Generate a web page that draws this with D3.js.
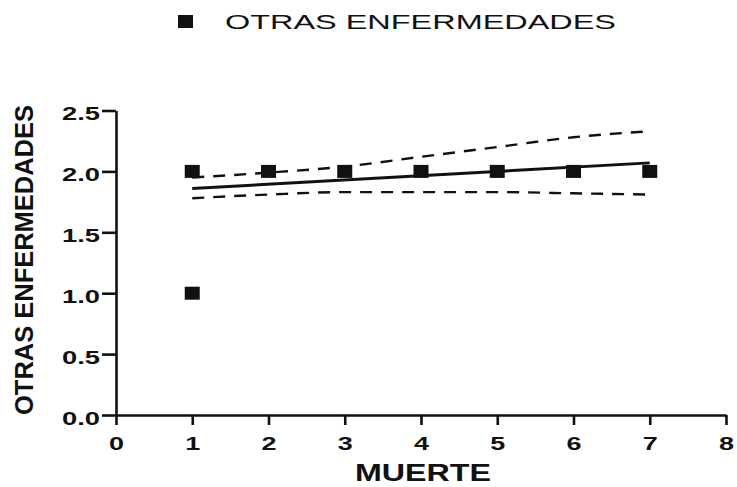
<!DOCTYPE html>
<html><head><meta charset="utf-8">
<script src="https://cdn.jsdelivr.net/npm/d3@7"></script>
<style>body{margin:0;background:#fff}svg{display:block}</style>
</head><body>
<svg id="c" width="737" height="487"></svg>
<script>
const seriesName = "OTRAS ENFERMEDADES";
const xTitle = "MUERTE";
const yTitle = "OTRAS ENFERMEDADES";
const pointsX = [1, 1, 2, 3, 4, 5, 6, 7];
const pointsY = [2, 1, 2, 2, 2, 2, 2, 2];
const fitX = [1, 7];
const fitY = [1.86, 2.07];
const bandX = [1, 2, 3, 4, 5, 6, 7];
const upperY = [1.95, 1.99, 2.04, 2.12, 2.20, 2.28, 2.33];
const lowerY = [1.78, 1.81, 1.83, 1.83, 1.83, 1.82, 1.81];
const xTicks = [0, 1, 2, 3, 4, 5, 6, 7, 8];
const yTicks = [0, 0.5, 1.0, 1.5, 2.0, 2.5];

const svg = d3.select("#c");
const x = d3.scaleLinear().domain([0, 8]).range([116, 726]);
const y = d3.scaleLinear().domain([0, 2.5]).range([415, 110.5]);
const ink = "#111";
const font = "Liberation Sans, Arial, sans-serif";

// axes
const xAxis = svg.append("g").attr("transform", `translate(0,${y(0)})`)
  .call(d3.axisBottom(x).tickValues(xTicks).tickSize(10).tickSizeOuter(0).tickFormat(d3.format("d")));
const yAxis = svg.append("g").attr("transform", `translate(${x(0)},0)`)
  .call(d3.axisLeft(y).tickValues(yTicks).tickSize(14).tickSizeOuter(0).tickFormat(d3.format(".1f")));
[xAxis, yAxis].forEach(g => {
  g.select(".domain").attr("stroke", ink).attr("stroke-width", 2.6);
  g.selectAll(".tick line").attr("stroke", ink).attr("stroke-width", 2.6);
  g.selectAll(".tick text").attr("fill", ink).attr("font-family", font)
    .attr("font-weight", "bold").attr("font-size", 18).attr("lengthAdjust", "spacingAndGlyphs");
});
xAxis.selectAll(".tick text").attr("dy", "0.71em").attr("y", 22).attr("textLength", 15);
yAxis.selectAll(".tick text").attr("x", -16).attr("dy", "0.5em").attr("textLength", 38);

// bands
const line = d3.line().x(d => x(d[0])).y(d => y(d[1])).curve(d3.curveMonotoneX);
[upperY, lowerY].forEach(vals => {
  svg.append("path").datum(bandX.map((v, i) => [v, vals[i]]))
    .attr("d", line).attr("fill", "none").attr("stroke", ink)
    .attr("stroke-width", 2.4).attr("stroke-dasharray", "12,9");
});
// fit
svg.append("path").datum(fitX.map((v, i) => [v, fitY[i]]))
  .attr("d", d3.line().x(d => x(d[0])).y(d => y(d[1]))).attr("fill", "none")
  .attr("stroke", ink).attr("stroke-width", 3);

// points
svg.append("g").selectAll("rect").data(pointsX.map((v, i) => [v, pointsY[i]])).join("rect")
  .attr("x", d => x(d[0]) - 7.5).attr("y", d => y(d[1]) - 6.5)
  .attr("width", 15).attr("height", 13).attr("fill", ink);

// titles
svg.append("text").attr("x", 423).attr("y", 481).attr("text-anchor", "middle")
  .attr("font-family", font).attr("font-weight", "bold")
  .attr("font-size", 23).attr("fill", ink).attr("textLength", 136).attr("lengthAdjust", "spacingAndGlyphs")
  .text(xTitle);
svg.append("text").attr("transform", `translate(33,${(105 + 415) / 2}) rotate(-90)`)
  .attr("text-anchor", "middle")
  .attr("font-family", font).attr("font-weight", "bold")
  .attr("font-size", 25).attr("fill", ink).attr("textLength", 310).attr("lengthAdjust", "spacingAndGlyphs")
  .text(yTitle);

// legend
svg.append("rect").attr("x", 178).attr("y", 15).attr("width", 15).attr("height", 13).attr("fill", ink);
svg.append("text").attr("x", 225).attr("y", 28.5)
  .attr("font-family", font)
  .attr("font-size", 21).attr("fill", ink).attr("textLength", 391).attr("lengthAdjust", "spacingAndGlyphs")
  .text(seriesName);
</script>
</body></html>
